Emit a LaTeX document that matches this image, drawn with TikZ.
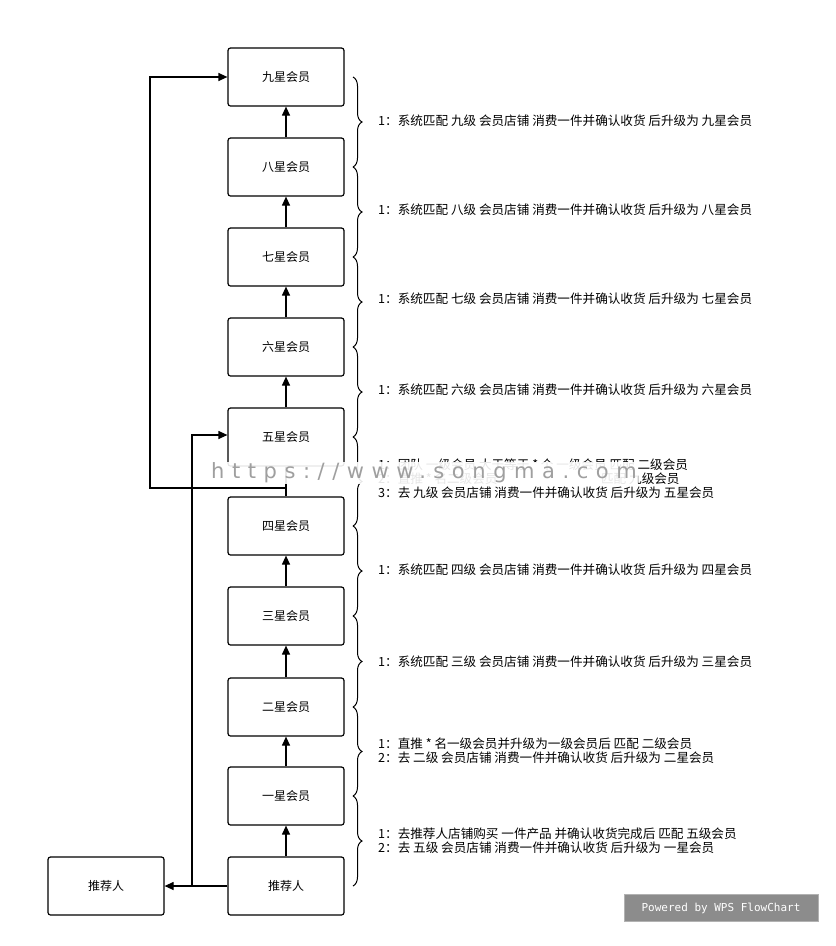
\documentclass[tikz,border=0pt]{standalone}
\usepackage{fontspec}
\setmainfont{Noto Sans CJK SC}
\newfontfamily\monof{DejaVu Sans Mono}
\newfontfamily\wmf[LetterSpace=36]{DejaVu Sans}
\usetikzlibrary{decorations.pathreplacing,arrows.meta}
\begin{document}
\begin{tikzpicture}[x=1pt,y=-1pt,
  box/.style={draw,line width=1.2pt,rounded corners=2.5pt,minimum width=116pt,minimum height=58pt,inner sep=0pt,font=\fontsize{12}{14}\selectfont},
  arr/.style={line width=1.2pt,-{Triangle[length=9pt,width=8pt]}},
  br/.style={decorate,decoration={brace,amplitude=9pt},line width=1pt},
  lab/.style={anchor=west,font=\fontsize{12.6}{16}\selectfont,align=left,inner sep=0pt}]
\useasboundingbox (0,0) rectangle (836,946);
\foreach \n/\t/\y in {b9/九星会员/77,b8/八星会员/167,b7/七星会员/257,b6/六星会员/347,b5/五星会员/437,b4/四星会员/526,b3/三星会员/616,b2/二星会员/707,b1/一星会员/796,b0/推荐人/886}
  \node[box] (\n) at (286,\y) {\t};
\node[box] (r) at (106,886) {推荐人};
\foreach \a/\b in {b0/b1,b1/b2,b2/b3,b3/b4,b5/b6,b6/b7,b7/b8,b8/b9}
  \draw[arr] (\a.north) -- (\b.south);
\draw[line width=1.2pt] (b4.north) -- (b5.south);
\draw[arr] (b0.west) -- (r.east);
\coordinate (j1) at (192,886);
\coordinate (j2) at (192,435);
\draw[arr] (j1) -- (j2) -- (b5.west |- j2);
\coordinate (k1) at (286,488);
\coordinate (k2) at (150,488);
\coordinate (k3) at (150,77);
\draw[arr] (k1) -- (k2) -- (k3) -- (b9.west);
\foreach \ya/\yb in {77/167,167/257,257/347,347/437,437/526,526/616,616/707,707/796,796/886}
  \draw[br] (353,\ya) -- (353,\yb);
\foreach \t/\y in {九/121,八/210,七/299,六/390,四/570,三/662}
  \node[lab] at (378,\y) {1：系统匹配 \t 级 会员店铺 消费一件并确认收货 后升级为 \t 星会员};
\node[lab] (l5) at (378,479) {1：团队 一级会员 大于等于 * 个 一级会员  匹配 二级会员\\[-2pt]2：直推 * 名二级会员 \hspace{8em}匹配 九级会员\\[-2pt]3：去 九级 会员店铺 消费一件并确认收货  后升级为 五星会员};
\node[lab] at (378,751) {1：直推 * 名一级会员并升级为一级会员后  匹配 二级会员\\[-2pt]2：去 二级 会员店铺 消费一件并确认收货 后升级为 二星会员};
\node[lab] at (378,841) {1：去推荐人店铺购买 一件产品 并确认收货完成后 匹配 五级会员\\[-2pt]2：去 五级 会员店铺 消费一件并确认收货 后升级为 一星会员};
\node[fill=white,fill opacity=0.9,text opacity=1,text=gray!75,font=\wmf\fontsize{21}{23}\selectfont,inner sep=1pt] (wm) at (424,473) {https://www.songma.com};
\node[fill=gray!90,draw=gray!60,minimum width=194pt,minimum height=27pt,text=white,font=\monof\fontsize{11}{12}\selectfont] (wps) at (721,908) {Powered by WPS FlowChart};
\end{tikzpicture}
\end{document}
